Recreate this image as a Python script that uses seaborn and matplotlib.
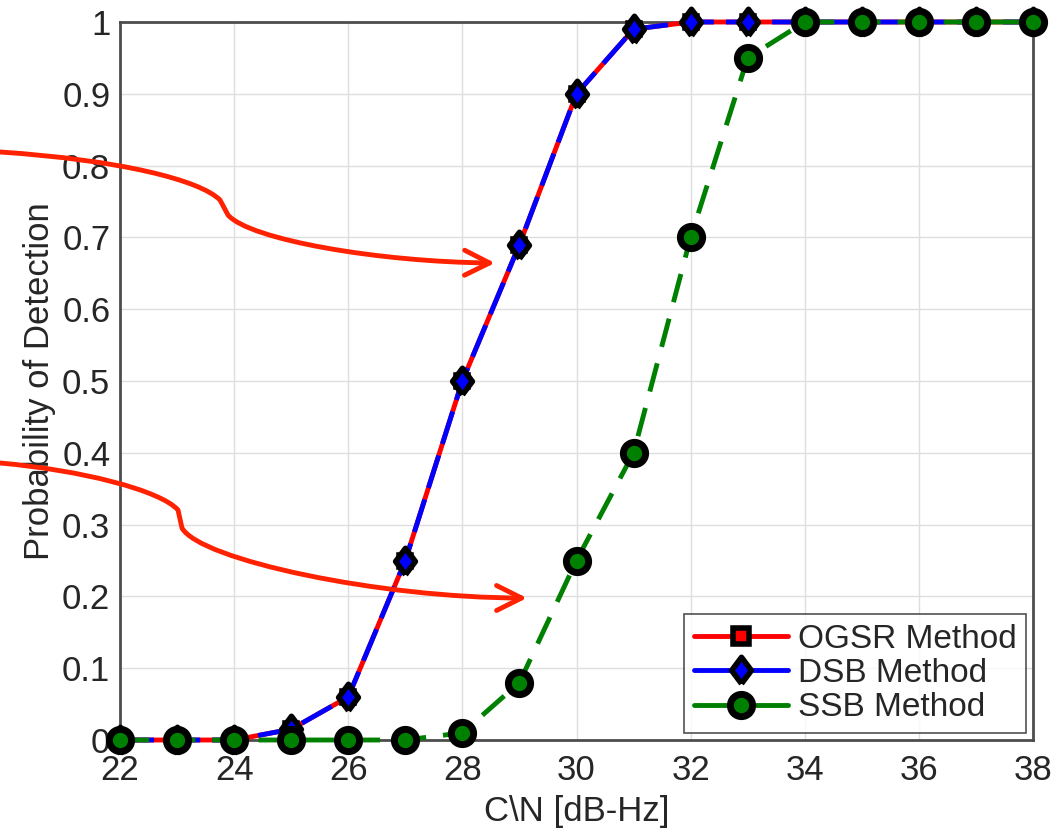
import matplotlib
matplotlib.use("Agg")
import matplotlib.pyplot as plt
from matplotlib.path import Path
from matplotlib.patches import FancyArrowPatch
import seaborn as sns

# C/N values and detection probabilities
cn_db = [22, 23, 24, 25, 26, 27, 28, 29, 30, 31, 32, 33, 34, 35, 36, 37, 38]
ogsr_pd = [0, 0, 0, 0.015, 0.06, 0.25, 0.5, 0.69, 0.9, 0.99, 1, 1, 1, 1, 1, 1, 1]
dsb_pd = [0, 0, 0, 0.015, 0.06, 0.25, 0.5, 0.69, 0.9, 0.99, 1, 1, 1, 1, 1, 1, 1]
ssb_pd = [0, 0, 0, 0, 0, 0, 0.01, 0.08, 0.25, 0.4, 0.7, 0.95, 1, 1, 1, 1, 1]
y_ticks = [0, 0.1, 0.2, 0.3, 0.4, 0.5, 0.6, 0.7, 0.8, 0.9, 1]
x_ticks = [22, 24, 26, 28, 30, 32, 34, 36, 38]

sns.set_theme(style="white")
plt.rcParams['font.family'] = ['Liberation Sans', 'DejaVu Sans']

W, H = 1061, 835
fig = plt.figure(figsize=(W / 100, H / 100), dpi=100)
ax = fig.add_axes([120 / W, 1 - 740 / H, 913 / W, 718 / H])

# MATLAB-like diamond (a bit taller than wide)
diamond = [(0, -1), (0.75, 0), (0, 1), (-0.75, 0), (0, -1)]

common = dict(ax=ax, lw=3.5, mec='black', clip_on=False)
sns.lineplot(x=cn_db, y=ogsr_pd, color='red', marker='s', ms=9, mew=4,
             mfc='red', label='OGSR Method', zorder=3, **common)
sns.lineplot(x=cn_db, y=dsb_pd, color='blue', marker=diamond, ms=19, mew=4,
             mfc='blue', linestyle=(0, (7, 2.5)), label='DSB Method', zorder=4, **common)
sns.lineplot(x=cn_db, y=ssb_pd, color='green', marker='o', ms=16, mew=5,
             mfc='green', linestyle=(0, (6, 3.5)), label='SSB Method', zorder=5, **common)

ax.set_xlim(22, 38)
ax.set_ylim(0, 1)
ax.set_xticks(x_ticks)
ax.set_yticks(y_ticks)
ax.set_yticklabels(['%g' % v for v in y_ticks])
ax.grid(True, color='#dedede', lw=1)
for s in ax.spines.values():
    s.set_color('#4d4d4d')
    s.set_linewidth(2)
ax.tick_params(direction='in', length=6, width=1.5, colors='#262626',
               labelsize=25, pad=7)
ax.tick_params(axis='x', pad=10)
ax.set_xlabel('C\\N [dB-Hz]', fontsize=25, color='#262626', labelpad=6)
ax.set_ylabel('Probability of Detection', fontsize=25, color='#262626', labelpad=4)

leg = ax.legend(loc='lower right', fontsize=24, frameon=True, fancybox=False,
                edgecolor='#262626', handlelength=2.8, borderaxespad=0.2,
                labelspacing=0.1, handletextpad=0.3, borderpad=0.3)
leg.get_frame().set_linewidth(1.2)
for line in leg.get_lines():
    line.set_linestyle('-')
leg.get_lines()[0].set_markersize(12)


# hand-drawn style red arrows (pixel coordinates of the picture)
def px(x, y):
    return (x / W, 1 - y / H)


C = Path.CURVE4
arrow_paths = [
    ([px(0, 152), px(120, 160), px(200, 180), px(220, 200), px(228, 215),
      px(250, 240), px(380, 262), px(495, 263)],
     [Path.MOVETO, C, C, C, Path.LINETO, C, C, C]),
    ([px(0, 463), px(80, 470), px(160, 490), px(178, 510), px(182, 528),
      px(200, 560), px(380, 598), px(527, 598)],
     [Path.MOVETO, C, C, C, Path.LINETO, C, C, C]),
]
for verts, codes in arrow_paths:
    arr = FancyArrowPatch(path=Path(verts, codes), arrowstyle='->',
                          mutation_scale=45, color='#ff2200', lw=3.5,
                          transform=fig.transFigure, capstyle='round',
                          joinstyle='round')
    fig.add_artist(arr)

fig.savefig('out.png', dpi=100)
